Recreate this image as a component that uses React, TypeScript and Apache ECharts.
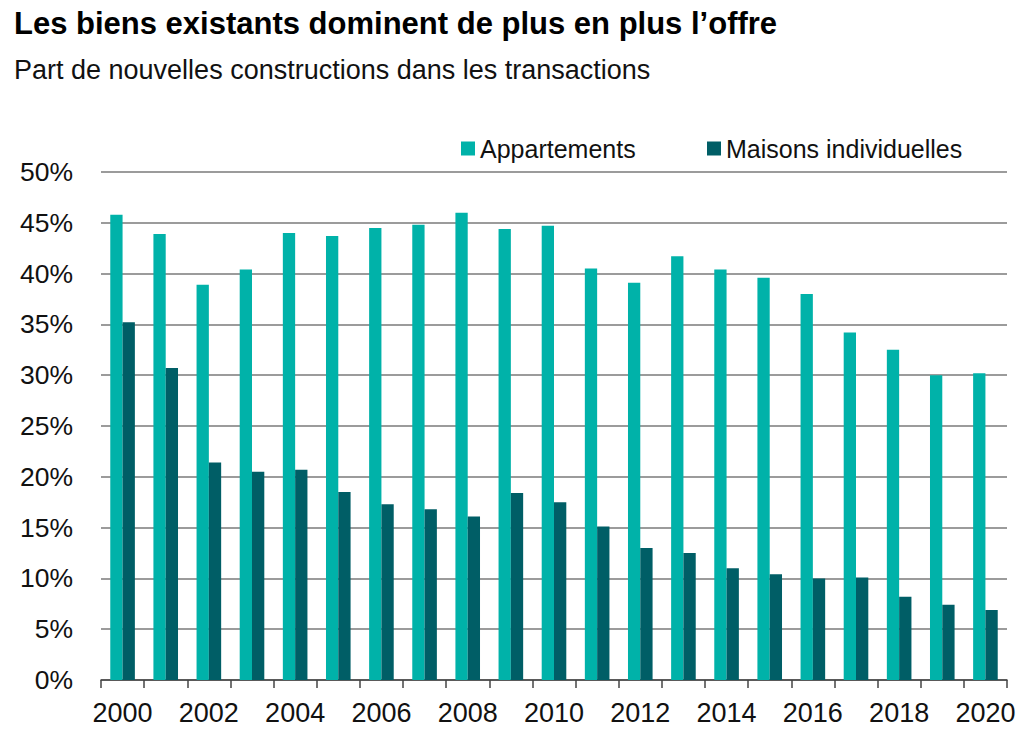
import React, { useEffect, useRef } from "react";
import * as echarts from "echarts";

const years: string[] = [
  "2000", "2001", "2002", "2003", "2004", "2005", "2006", "2007", "2008", "2009", "2010",
  "2011", "2012", "2013", "2014", "2015", "2016", "2017", "2018", "2019", "2020",
];
const appartements: number[] = [
  45.8, 43.9, 38.9, 40.4, 44.0, 43.7, 44.5, 44.8, 46.0, 44.4, 44.7,
  40.5, 39.1, 41.7, 40.4, 39.6, 38.0, 34.2, 32.5, 30.0, 30.2,
];
const maisons: number[] = [
  35.2, 30.7, 21.4, 20.5, 20.7, 18.5, 17.3, 16.8, 16.1, 18.4, 17.5,
  15.1, 13.0, 12.5, 11.0, 10.4, 10.0, 10.1, 8.2, 7.4, 6.9,
];
const seriesNames: string[] = ["Appartements", "Maisons individuelles"];
const titleText = "Les biens existants dominent de plus en plus l\u2019offre";
const subtitleText = "Part de nouvelles constructions dans les transactions";

const TEAL = "#00B2A9";
const DARK = "#005E66";
const FONT = "'Liberation Sans', Arial, sans-serif";

export default function App() {
  const ref = useRef<HTMLDivElement>(null);
  useEffect(() => {
    if (!ref.current) return;
    const chart = echarts.init(ref.current, undefined, { renderer: "svg" });
    chart.setOption({
      animation: false,
      backgroundColor: "#ffffff",
      textStyle: { fontFamily: FONT },
      title: [
        {
          text: titleText,
          left: 14,
          top: 8,
          padding: 0,
          textStyle: { fontFamily: FONT, fontSize: 31, fontWeight: "bold", color: "#000000" },
        },
        {
          text: subtitleText,
          left: 14,
          top: 56,
          padding: 0,
          textStyle: { fontFamily: FONT, fontSize: 27, fontWeight: "normal", color: "#111111" },
        },
      ],
      legend: [
        {
          data: [seriesNames[0]],
          left: 461,
          top: 136,
          padding: 0,
          icon: "rect",
          itemWidth: 14,
          itemHeight: 14,
          textStyle: { fontFamily: FONT, fontSize: 25, color: "#111111" },
        },
        {
          data: [seriesNames[1]],
          left: 707,
          top: 136,
          padding: 0,
          icon: "rect",
          itemWidth: 14,
          itemHeight: 14,
          textStyle: { fontFamily: FONT, fontSize: 25, color: "#111111" },
        },
      ],
      grid: { left: 101, right: 17, top: 172, bottom: 58, containLabel: false },
      xAxis: {
        type: "category",
        data: years,
        axisLine: { lineStyle: { color: "#444444", width: 1.5 } },
        axisTick: { show: true, interval: 0, length: 8, lineStyle: { color: "#444444", width: 1.5 } },
        axisLabel: { interval: 1, fontSize: 27, color: "#111111", margin: 19, fontFamily: FONT },
      },
      yAxis: {
        type: "value",
        min: 0,
        max: 50,
        interval: 5,
        axisLine: { show: false },
        axisTick: { show: false },
        axisLabel: { formatter: "{value}%", fontSize: 26.5, color: "#111111", margin: 28, fontFamily: FONT },
        splitLine: { lineStyle: { color: "#7a7a7a", width: 1.5 } },
      },
      series: [
        {
          name: seriesNames[0],
          type: "bar",
          data: appartements,
          barWidth: 12.3,
          barGap: "0%",
          itemStyle: { color: TEAL },
        },
        {
          name: seriesNames[1],
          type: "bar",
          data: maisons,
          barWidth: 12.3,
          barGap: "0%",
          itemStyle: { color: DARK },
        },
      ],
    });
    return () => chart.dispose();
  }, []);
  return (
    <div
      ref={ref}
      style={{ position: "fixed", left: 0, top: 0, width: 1024, height: 738, background: "#fff" }}
    />
  );
}
